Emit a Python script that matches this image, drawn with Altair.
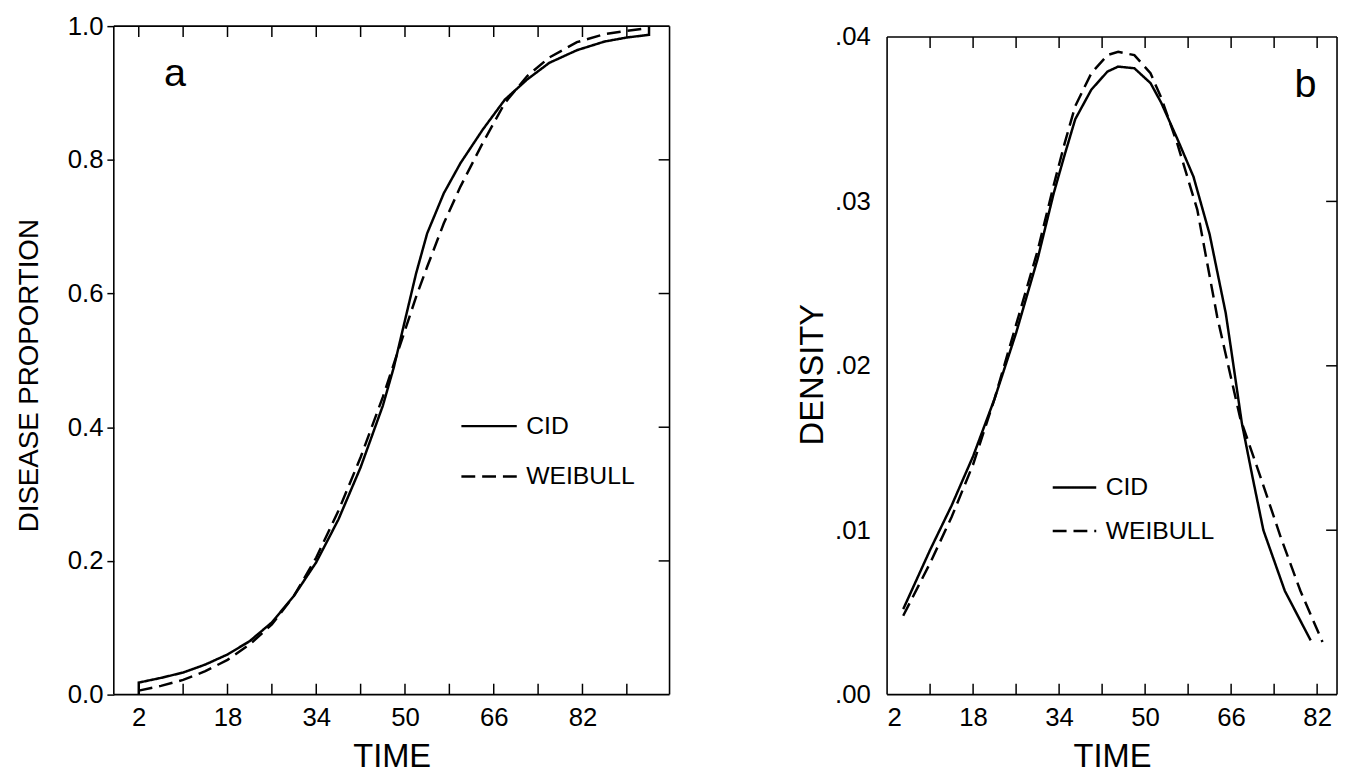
import altair as alt
import pandas as pd

FONT = "Liberation Sans"
SERIES = ["CID", "WEIBULL"]

# ---------------- Panel a : cumulative disease proportion ----------------
a_cid_time = [2, 2, 6, 10, 14, 18, 22, 26, 30, 34, 38, 42, 46, 48, 50, 52, 54, 57, 60, 64, 68, 72, 76, 81, 86, 90, 94, 94]
a_cid_value = [0.0, 0.018, 0.025, 0.033, 0.045, 0.060, 0.080, 0.108, 0.148, 0.198, 0.262, 0.340, 0.432, 0.490,
               0.560, 0.630, 0.690, 0.750, 0.795, 0.845, 0.890, 0.920, 0.945, 0.964, 0.977, 0.983, 0.987, 1.0]
a_wb_time = [2, 6, 10, 14, 18, 22, 26, 30, 34, 38, 42, 46, 48, 50, 52, 54, 57, 60, 64, 68, 72, 76, 81, 86, 90, 94]
a_wb_value = [0.006, 0.013, 0.022, 0.035, 0.052, 0.075, 0.105, 0.148, 0.205, 0.275, 0.355, 0.445, 0.495, 0.545,
              0.595, 0.640, 0.705, 0.760, 0.825, 0.885, 0.925, 0.953, 0.976, 0.988, 0.993, 0.997]
a_x_labels = [2, 18, 34, 50, 66, 82]
a_x_ticks = [2, 10, 18, 26, 34, 42, 50, 58, 66, 74, 82, 90]
a_y_labels = [0.0, 0.2, 0.4, 0.6, 0.8, 1.0]
a_right_ticks = [0.2, 0.4, 0.6, 0.8]
a_top = 1.0

# ---------------- Panel b : density ----------------
b_cid_time = [5, 10, 14, 18, 22, 26, 30, 33, 35, 37, 40, 43, 45, 48, 51, 53, 56, 59, 62, 65, 66, 68, 70, 72, 76, 80.8]
b_cid_value = [0.0052, 0.0088, 0.0115, 0.0145, 0.0180, 0.0220, 0.0265, 0.0305, 0.0328, 0.0350, 0.0368, 0.0379,
               0.0382, 0.0381, 0.0372, 0.0360, 0.0338, 0.0315, 0.0280, 0.0232, 0.0210, 0.0165, 0.0132, 0.0100,
               0.0063, 0.0033]
b_wb_time = [5, 10, 14, 18, 22, 26, 30, 33, 35, 37, 40, 43, 45, 48, 51, 53, 56, 59.7, 63.4, 67.7, 71.5, 75.2, 78.9, 83]
b_wb_value = [0.0048, 0.0080, 0.0108, 0.0140, 0.0180, 0.0225, 0.0270, 0.0310, 0.0335, 0.0358, 0.0378, 0.0389,
              0.0391, 0.0389, 0.0378, 0.0363, 0.0335, 0.0295, 0.0230, 0.0168, 0.0132, 0.0096, 0.0063, 0.0032]
b_x_labels = [2, 18, 34, 50, 66, 82]
b_x_ticks = [10, 18, 26, 34, 42, 50, 58, 66, 74, 82]
b_y_labels = [0.0, 0.01, 0.02, 0.03, 0.04]
b_right_ticks = [0.01, 0.02, 0.03]
b_top = 0.04


def frame(tc, vc, tw, vw):
    rows = []
    for i, (t, v) in enumerate(zip(tc, vc)):
        rows.append({"time": t, "value": v, "series": "CID", "i": i})
    for i, (t, v) in enumerate(zip(tw, vw)):
        rows.append({"time": t, "value": v, "series": "WEIBULL", "i": i})
    return pd.DataFrame(rows)


def panel(df, W, H, xdom, ydom, top_value, x_labels, x_ticks, y_labels, right_ticks, ytitle, ytitle_size,
          y_axis_kw, legend_xy, sym_len, row_pad, tag, tag_xy):
    X = alt.X("time:Q", scale=alt.Scale(domain=xdom, nice=False, zero=False),
              axis=alt.Axis(values=x_labels, ticks=False, domain=False, grid=False,
                            labelFontSize=26, labelPadding=10, labelColor="black",
                            title="TIME", titleFontSize=33, titlePadding=11,
                            titleFontWeight="normal", titleColor="black"))
    Y = alt.Y("value:Q", scale=alt.Scale(domain=ydom, nice=False, zero=False),
              axis=alt.Axis(values=y_labels, domain=False, grid=False, labelFontSize=26,
                            labelColor="black", title=ytitle, titleFontSize=ytitle_size,
                            titleFontWeight="normal", titleColor="black", **y_axis_kw))
    lines = alt.Chart(df).mark_line(color="black", strokeWidth=2.5, clip=True).encode(
        x=X, y=Y,
        strokeDash=alt.StrokeDash(
            "series:N",
            scale=alt.Scale(domain=SERIES, range=[[1, 0], [14, 7]]),
            legend=alt.Legend(orient="none", legendX=legend_xy[0], legendY=legend_xy[1], title=None,
                              symbolType="stroke", symbolSize=sym_len * sym_len, symbolStrokeWidth=2.5,
                              symbolStrokeColor="black", labelFontSize=25, labelColor="black",
                              labelOffset=8, rowPadding=row_pad, labelFont=FONT)),
        order="i:Q",
    )
    topdf = pd.DataFrame({"value": [top_value]})
    frame_top = alt.Chart(topdf).mark_rule(color="black", strokeWidth=1.6).encode(
        y=Y, x=alt.value(0), x2=alt.value(W))
    frame_bottom = alt.Chart(topdf).mark_rule(color="black", strokeWidth=1.6).encode(
        y=alt.value(H), x=alt.value(0), x2=alt.value(W))
    frame_left = alt.Chart(topdf).mark_rule(color="black", strokeWidth=1.6).encode(
        y=Y, y2=alt.value(H), x=alt.value(0))
    frame_right = alt.Chart(topdf).mark_rule(color="black", strokeWidth=1.6).encode(
        y=Y, y2=alt.value(H), x=alt.value(W))
    tdf = pd.DataFrame({"time": x_ticks, "value": [top_value] * len(x_ticks)})
    bottom = alt.Chart(tdf).mark_rule(color="black", strokeWidth=1.5).encode(
        x=X, y=alt.value(H), y2=alt.value(H - 11))
    top = alt.Chart(tdf).mark_rule(color="black", strokeWidth=1.5, y2Offset=11).encode(
        x=X, y=Y, y2="value:Q")
    rdf = pd.DataFrame({"value": right_ticks})
    right = alt.Chart(rdf).mark_rule(color="black", strokeWidth=1.5).encode(
        y=Y, x=alt.value(W - 11), x2=alt.value(W))
    label = alt.Chart(pd.DataFrame({"t": [tag]})).mark_text(
        fontSize=40, font=FONT, color="black", align="center", baseline="middle").encode(
        text="t:N", x=alt.value(tag_xy[0]), y=alt.value(tag_xy[1]))
    return alt.layer(lines, frame_top, frame_bottom, frame_left, frame_right, bottom, top, right,
                     label).properties(width=W, height=H)


df_a = frame(a_cid_time, a_cid_value, a_wb_time, a_wb_value)
df_b = frame(b_cid_time, b_cid_value, b_wb_time, b_wb_value)

H = 676
pa = panel(df_a, 562, H, [-2.5, 97.7], [0, 1], a_top, a_x_labels, a_x_ticks, a_y_labels, a_right_ticks,
           "DISEASE PROPORTION", 28,
           dict(format=".1f", tickSize=7, tickColor="black", tickWidth=1.5, labelPadding=4,
                titleAngle=270, titleAlign="center", titleBaseline="middle", titleX=-85, titleY=353),
           (350, 375), 56, 8, "a", (62, 49))

pb = panel(df_b, 455, H, [2, 85.7], [0, 0.04 * 676 / 665], b_top, b_x_labels, b_x_ticks, b_y_labels,
           b_right_ticks, "DENSITY", 33,
           dict(labelExpr="substring(format(datum.value, '.2f'), 1)", ticks=False, labelPadding=17,
                titleAngle=270, titleAlign="center", titleBaseline="middle", titleX=-75, titleY=352),
           (166, 443), 44, 7, "b", (423, 60))

chart = alt.hconcat(pa, pb, spacing=126).resolve_scale(
    x="independent", y="independent", strokeDash="independent"
).resolve_legend(strokeDash="independent").configure(
    font=FONT, padding={"left": 7, "top": 0, "right": 0, "bottom": 0}
).configure_view(stroke="transparent").configure_axis(labelFont=FONT, titleFont=FONT)

chart.save("out.html", embed_options={"renderer": "svg", "actions": False})
